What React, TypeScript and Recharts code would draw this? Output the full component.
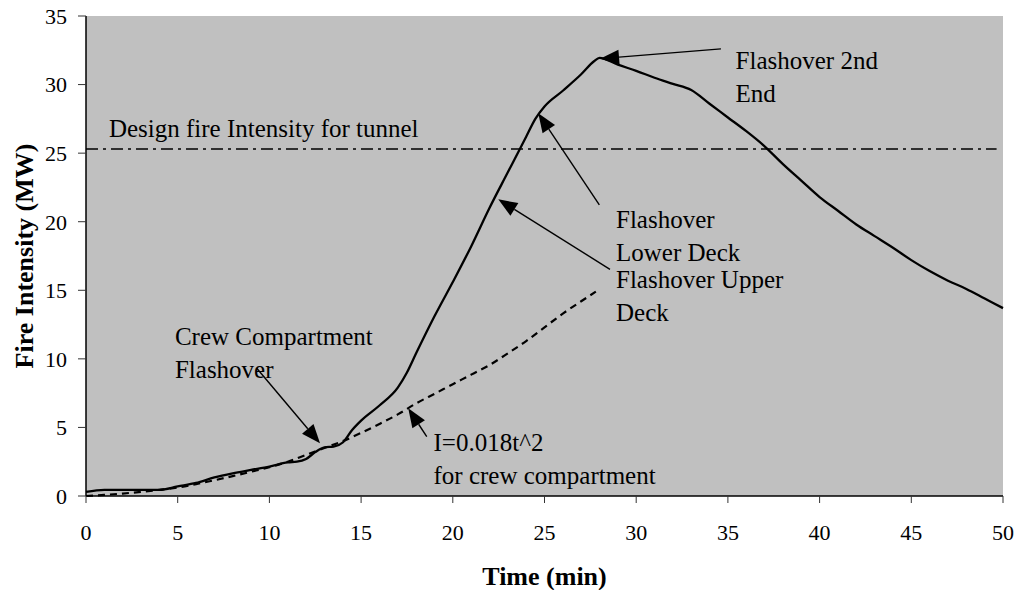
import React from "react";
import {
  LineChart, Line, XAxis, YAxis, CartesianGrid,
  ReferenceLine, ReferenceDot, Label,
} from "recharts";

const FONT = '"Times New Roman", "Liberation Serif", Times, serif';

// measured fire curve (solid)
const fireTime = [
  0, 1, 2, 3, 4, 5, 6, 7, 8, 9, 10, 11, 11.5, 12, 12.5, 13, 13.5, 14, 14.5, 15,
  16, 17, 17.5, 18, 19, 20, 21, 22, 23, 24, 24.5, 25, 26, 27, 27.7, 28,
  29, 30, 31, 32, 33, 34, 35, 36, 37, 38, 39, 40, 41, 42, 43, 44, 45, 46, 47, 48, 49, 50,
];
const fireMW = [
  0.3, 0.45, 0.45, 0.45, 0.45, 0.7, 0.95, 1.35, 1.65, 1.9, 2.15, 2.45, 2.5, 2.7, 3.2, 3.55, 3.6, 3.9, 4.8, 5.5,
  6.6, 7.9, 9.0, 10.4, 13.1, 15.6, 18.2, 21.0, 23.6, 26.2, 27.5, 28.4, 29.55, 30.75, 31.7, 31.95,
  31.45, 31.0, 30.5, 30.05, 29.6, 28.6, 27.6, 26.6, 25.5, 24.2, 23.0, 21.8, 20.8, 19.8, 18.95, 18.1, 17.2, 16.4, 15.7, 15.1, 14.4, 13.7,
];

// crew compartment growth curve (dashed)
const crewTime = [
  0, 1, 2, 3, 4, 5, 6, 7, 8, 9, 10, 11, 12, 13, 14, 15, 16, 17, 18, 19,
  20, 21, 22, 23, 24, 25, 26, 27, 27.8,
];
const crewMW = [
  0, 0.08, 0.18, 0.3, 0.45, 0.62, 0.87, 1.15, 1.45, 1.77, 2.1, 2.5, 3.0, 3.5, 4.0, 4.6, 5.25, 5.95, 6.75, 7.45,
  8.15, 8.85, 9.55, 10.4, 11.3, 12.3, 13.3, 14.2, 14.9,
];

const designFireMW = 25.3;
const designFireSpan = [0, 49.65];

const xTicks = [0, 5, 10, 15, 20, 25, 30, 35, 40, 45, 50];
const yTicks = [0, 5, 10, 15, 20, 25, 30, 35];

type Note = {
  lines: string[];
  at: [number, number];
  from?: [number, number];
  to?: [number, number];
};

const notes: Note[] = [
  { lines: ["Design fire Intensity for tunnel"], at: [1.25, 26.2] },
  { lines: ["Crew Compartment", "Flashover"], at: [4.85, 11.0], from: [9.31, 9.31], to: [12.76, 3.84] },
  { lines: ["Flashover 2nd", "End"], at: [35.42, 31.1], from: [34.62, 32.6], to: [28.03, 31.89] },
  { lines: ["Flashover", "Lower Deck"], at: [28.9, 19.57], from: [27.99, 21.22], to: [24.66, 27.9] },
  { lines: ["Flashover Upper", "Deck"], at: [28.9, 15.15], from: [28.57, 16.53], to: [22.48, 21.63] },
  { lines: ["I=0.018t^2", "for crew compartment"], at: [18.95, 3.3], from: [18.58, 4.33], to: [17.57, 6.39] },
];

const fireData = fireTime.map((t, i) => ({ t, mw: fireMW[i] }));
const crewData = crewTime.map((t, i) => ({ t, mw: crewMW[i] }));

function Arrow(p: any) {
  const { x1, y1, x2, y2 } = p;
  const dx = x2 - x1;
  const dy = y2 - y1;
  const len = Math.hypot(dx, dy) || 1;
  const ux = dx / len;
  const uy = dy / len;
  const hl = 19;
  const hw = 7.5;
  const bx = x2 - ux * hl;
  const by = y2 - uy * hl;
  return (
    <g>
      <line x1={x1} y1={y1} x2={bx} y2={by} stroke="#000" strokeWidth={1.4} />
      <polygon
        points={`${x2},${y2} ${bx - uy * hw},${by + ux * hw} ${bx + uy * hw},${by - ux * hw}`}
        fill="#000"
      />
    </g>
  );
}

function noteText(lines: string[]) {
  return (p: any) => (
    <text x={p.cx} y={p.cy} fontFamily={FONT} fontSize={25} fill="#000">
      {lines.map((l, i) => (
        <tspan key={i} x={p.cx} dy={i === 0 ? 0 : 33}>{l}</tspan>
      ))}
    </text>
  );
}

export default function App() {
  return (
    <div style={{ position: "absolute", left: 0, top: 0, width: 1016, height: 590, background: "#fff" }}>
      <LineChart width={1016} height={590} margin={{ top: 16, right: 13, bottom: 0, left: 0 }}>
        <CartesianGrid fill="#c0c0c0" fillOpacity={1} stroke="none" horizontal={false} vertical={false} />
        <XAxis
          dataKey="t"
          type="number"
          domain={[0, 50]}
          ticks={xTicks}
          interval={0}
          height={94}
          tickSize={7}
          tickMargin={21}
          axisLine={{ stroke: "#000", strokeWidth: 1.5 }}
          tickLine={{ stroke: "#333" }}
          tick={{ fontSize: 22, fill: "#000", fontFamily: FONT }}
        >
          <Label
            value="Time (min)"
            position="insideBottom"
            offset={5}
            fontSize={26}
            fontWeight={700}
            fontFamily={FONT}
            fill="#000"
          />
        </XAxis>
        <YAxis
          type="number"
          domain={[0, 35]}
          ticks={yTicks}
          interval={0}
          width={86}
          tickSize={8}
          tickMargin={11}
          axisLine={{ stroke: "#000", strokeWidth: 1.5 }}
          tickLine={{ stroke: "#333" }}
          tick={{ fontSize: 22, fill: "#000", fontFamily: FONT }}
        >
          <Label
            content={() => (
              <text
                transform="translate(33, 256) rotate(-90)"
                textAnchor="middle"
                fontFamily={FONT}
                fontSize={26}
                fontWeight={700}
                fill="#000"
              >
                Fire Intensity (MW)
              </text>
            )}
          />
        </YAxis>

        <ReferenceLine
          segment={[{ x: designFireSpan[0], y: designFireMW }, { x: designFireSpan[1], y: designFireMW }]}
          stroke="#000"
          strokeWidth={1.5}
          strokeDasharray="12 5 3 5"
        />

        <Line
          data={crewData}
          dataKey="mw"
          type="monotone"
          stroke="#000"
          strokeWidth={2.2}
          strokeDasharray="7 5"
          dot={false}
          activeDot={false}
          isAnimationActive={false}
        />
        <Line
          data={fireData}
          dataKey="mw"
          type="monotone"
          stroke="#000"
          strokeWidth={2.3}
          dot={false}
          activeDot={false}
          isAnimationActive={false}
        />

        {notes.filter((n) => n.from && n.to).map((n, i) => (
          <ReferenceLine
            key={`a${i}`}
            segment={[{ x: n.from![0], y: n.from![1] }, { x: n.to![0], y: n.to![1] }]}
            shape={Arrow}
          />
        ))}
        {notes.map((n, i) => (
          <ReferenceDot
            key={`t${i}`}
            x={n.at[0]}
            y={n.at[1]}
            r={0}
            shape={noteText(n.lines)}
          />
        ))}
      </LineChart>
    </div>
  );
}
